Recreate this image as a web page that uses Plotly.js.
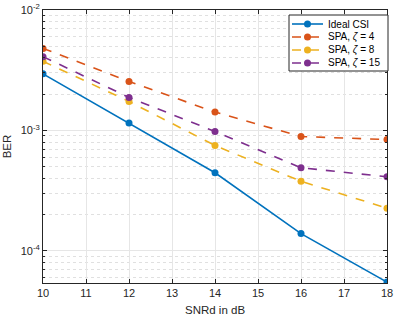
<!DOCTYPE html>
<html><head><meta charset="utf-8">
<script src="https://cdn.plot.ly/plotly-3.0.1.min.js"></script>
<style>html,body{margin:0;padding:0;background:#fff}#chart{width:399px;height:316px}</style>
</head><body><div id="chart"></div>
<script>
const snr = [10, 12, 14, 16, 18];
const berIdeal = [2.95e-3, 1.15e-3, 4.45e-4, 1.39e-4, 5.5e-5];
const berZeta4 = [4.8e-3, 2.55e-3, 1.42e-3, 8.9e-4, 8.4e-4];
const berZeta8 = [3.75e-3, 1.74e-3, 7.5e-4, 3.78e-4, 2.26e-4];
const berZeta15 = [4.1e-3, 1.88e-3, 9.8e-4, 4.9e-4, 4.12e-4];
const names = ['Ideal CSI', 'SPA, <i>ζ</i> = 4', 'SPA, <i>ζ</i> = 8', 'SPA, <i>ζ</i> = 15'];
const colors = ['#0072BD', '#D95319', '#EDB120', '#7E2F8E'];
const yTickVals = [1e-4, 1e-3, 1e-2];
const yTickText = ['10<sup>-4</sup>', '10<sup>-3</sup>', '10<sup>-2</sup>'];

const series = [berIdeal, berZeta4, berZeta8, berZeta15];
const traces = series.map((y, i) => ({
  x: snr, y: y, name: names[i], type: 'scatter', mode: 'lines+markers',
  line: {color: colors[i], width: 1.6, dash: i === 0 ? 'solid' : 'dash'},
  marker: {color: colors[i], size: 7, symbol: 'circle'},
  showlegend: false
}));

// manual legend (pixel layout converted to paper coords)
const L = 43, R = 387, T = 10, B = 283;
const px = X => (X - L) / (R - L);
const py = Y => 1 - (Y - T) / (B - T);
const shapes = [{type: 'rect', xref: 'paper', yref: 'paper',
  x0: px(289), x1: px(388), y0: py(15), y1: py(71),
  fillcolor: '#fff', line: {color: '#262626', width: 1}, layer: 'above'}];
const annotations = [{xref: 'paper', yref: 'paper', x: 0.5, y: py(310),
  xanchor: 'center', yanchor: 'middle', text: 'SNRd in dB', showarrow: false,
  font: {size: 11.5, color: '#262626'}}];
const rowY = [24, 37, 50, 63];
names.forEach((n, i) => {
  shapes.push({type: 'line', xref: 'paper', yref: 'paper',
    x0: px(292), x1: px(323), y0: py(rowY[i]), y1: py(rowY[i]),
    line: {color: colors[i], width: 1.6, dash: i === 0 ? 'solid' : 'dash'}, layer: 'above'});
  shapes.push({type: 'circle', xref: 'paper', yref: 'paper',
    xsizemode: 'pixel', ysizemode: 'pixel', xanchor: px(307.5), yanchor: py(rowY[i]),
    x0: -3.5, x1: 3.5, y0: -3.5, y1: 3.5,
    fillcolor: colors[i], line: {color: colors[i], width: 0}, layer: 'above'});
  annotations.push({xref: 'paper', yref: 'paper', x: px(326), y: py(rowY[i]),
    xanchor: 'left', yanchor: 'middle', text: n, showarrow: false,
    font: {size: 10, color: '#000'}});
});

const layout = {
  width: 399, height: 316,
  margin: {l: L, r: 399 - R, t: T, b: 316 - B},
  paper_bgcolor: '#fff', plot_bgcolor: '#fff',
  font: {family: 'Liberation Sans, Arial, sans-serif', size: 11, color: '#262626'},
  showlegend: false,
  shapes: shapes, annotations: annotations,
  xaxis: {
    range: [10, 18], tickvals: [10,11,12,13,14,15,16,17,18],
    showline: true, linecolor: '#262626', linewidth: 1, mirror: 'ticks',
    ticks: 'inside', ticklen: 4, tickcolor: '#262626',
    showgrid: true, gridcolor: '#e6e6e6', zeroline: false
  },
  yaxis: {
    type: 'log', range: [-4.267, -2],
    tickvals: yTickVals, ticktext: yTickText,
    showline: true, linecolor: '#262626', linewidth: 1, mirror: 'ticks',
    ticks: 'inside', ticklen: 4, tickcolor: '#262626',
    showgrid: true, gridcolor: '#e6e6e6', zeroline: false,
    minor: {tickvals: [6e-5,7e-5,8e-5,9e-5,2e-4,3e-4,4e-4,5e-4,6e-4,7e-4,8e-4,9e-4,2e-3,3e-3,4e-3,5e-3,6e-3,7e-3,8e-3,9e-3],
      ticks: 'inside', ticklen: 2, tickcolor: '#262626',
      showgrid: true, gridcolor: '#e0e0e0', griddash: 'dot'},
    title: {text: 'BER', font: {size: 11.5}, standoff: 6}
  }
};
Plotly.newPlot('chart', traces, layout, {displayModeBar: false, staticPlot: true});
</script></body></html>
